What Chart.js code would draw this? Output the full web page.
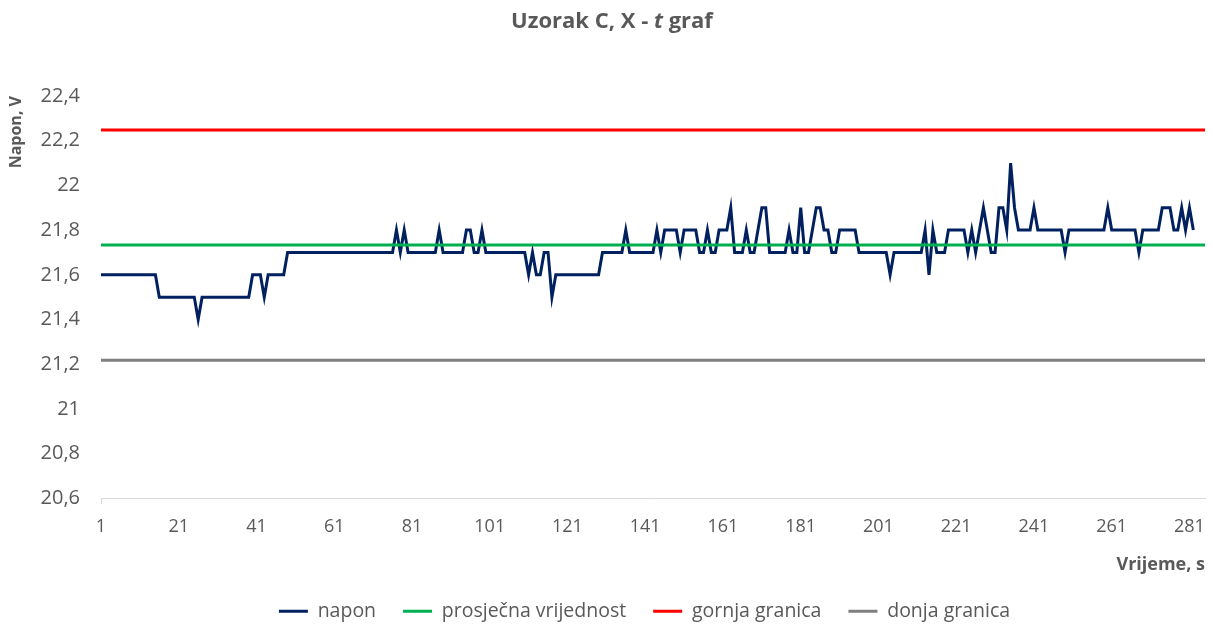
<!DOCTYPE html>
<html>
<head>
<meta charset="utf-8">
<script src="https://cdn.jsdelivr.net/npm/chart.js@4/dist/chart.umd.min.js"></script>
<style>
  html, body { margin: 0; padding: 0; background: #fff; }
  canvas { display: block; }
</style>
</head>
<body>
<canvas id="xtChart" width="1213" height="625"></canvas>
<script>
// napon (V) po sekundi, ocitano s grafa
const napon = [
  21.6, 21.6, 21.6, 21.6, 21.6, 21.6, 21.6, 21.6, 21.6, 21.6, 21.6, 21.6, 21.6, 21.6, 21.6, 21.5, 21.5, 21.5, 21.5, 21.5,
  21.5, 21.5, 21.5, 21.5, 21.5, 21.4, 21.5, 21.5, 21.5, 21.5, 21.5, 21.5, 21.5, 21.5, 21.5, 21.5, 21.5, 21.5, 21.5, 21.6,
  21.6, 21.6, 21.5, 21.6, 21.6, 21.6, 21.6, 21.6, 21.7, 21.7, 21.7, 21.7, 21.7, 21.7, 21.7, 21.7, 21.7, 21.7, 21.7, 21.7,
  21.7, 21.7, 21.7, 21.7, 21.7, 21.7, 21.7, 21.7, 21.7, 21.7, 21.7, 21.7, 21.7, 21.7, 21.7, 21.7, 21.8, 21.7, 21.8, 21.7,
  21.7, 21.7, 21.7, 21.7, 21.7, 21.7, 21.7, 21.8, 21.7, 21.7, 21.7, 21.7, 21.7, 21.7, 21.8, 21.8, 21.7, 21.7, 21.8, 21.7,
  21.7, 21.7, 21.7, 21.7, 21.7, 21.7, 21.7, 21.7, 21.7, 21.7, 21.6, 21.7, 21.6, 21.6, 21.7, 21.7, 21.5, 21.6, 21.6, 21.6,
  21.6, 21.6, 21.6, 21.6, 21.6, 21.6, 21.6, 21.6, 21.6, 21.7, 21.7, 21.7, 21.7, 21.7, 21.7, 21.8, 21.7, 21.7, 21.7, 21.7,
  21.7, 21.7, 21.7, 21.8, 21.7, 21.8, 21.8, 21.8, 21.8, 21.7, 21.8, 21.8, 21.8, 21.8, 21.7, 21.7, 21.8, 21.7, 21.7, 21.8,
  21.8, 21.8, 21.9, 21.7, 21.7, 21.7, 21.8, 21.7, 21.7, 21.8, 21.9, 21.9, 21.7, 21.7, 21.7, 21.7, 21.7, 21.8, 21.7, 21.7,
  21.9, 21.7, 21.7, 21.8, 21.9, 21.9, 21.8, 21.8, 21.7, 21.7, 21.8, 21.8, 21.8, 21.8, 21.8, 21.7, 21.7, 21.7, 21.7, 21.7,
  21.7, 21.7, 21.7, 21.6, 21.7, 21.7, 21.7, 21.7, 21.7, 21.7, 21.7, 21.7, 21.8, 21.6, 21.8, 21.7, 21.7, 21.7, 21.8, 21.8,
  21.8, 21.8, 21.8, 21.7, 21.8, 21.7, 21.8, 21.9, 21.8, 21.7, 21.7, 21.9, 21.9, 21.8, 22.1, 21.9, 21.8, 21.8, 21.8, 21.8,
  21.9, 21.8, 21.8, 21.8, 21.8, 21.8, 21.8, 21.8, 21.7, 21.8, 21.8, 21.8, 21.8, 21.8, 21.8, 21.8, 21.8, 21.8, 21.8, 21.9,
  21.8, 21.8, 21.8, 21.8, 21.8, 21.8, 21.8, 21.7, 21.8, 21.8, 21.8, 21.8, 21.8, 21.9, 21.9, 21.9, 21.8, 21.8, 21.9, 21.8,
  21.9, 21.8
];

// kontrolne granice
const prosjek = 21.733;
const gornjaGranica = 22.248;
const donjaGranica = 21.218;

// os x ima nekoliko kategorija vise od mjerenja
const brojKategorija = 285;
const vrijeme = Array.from({ length: brojKategorija }, (_, i) => String(i + 1));
const yTicks = [20.6, 20.8, 21, 21.2, 21.4, 21.6, 21.8, 22, 22.2, 22.4];

const textColor = '#595959';
const fontFamily = "'Open Sans', 'Liberation Sans', sans-serif";

// naslov s kurzivnim "t"
const titlePlugin = {
  id: 'xtTitle',
  afterLayout(chart) {
    // legenda u originalu stoji malo desno
    chart.legend.left += 42;
    chart.legend.right += 42;
  },
  afterDraw(chart) {
    const ctx = chart.ctx;
    const parts = [
      { t: 'Uzorak C, X - ', f: 'bold 22px ' + fontFamily },
      { t: 't', f: 'italic bold 22px ' + fontFamily },
      { t: ' graf', f: 'bold 22px ' + fontFamily }
    ];
    ctx.save();
    let total = 0;
    parts.forEach(p => { ctx.font = p.f; p.w = ctx.measureText(p.t).width; total += p.w; });
    let x = 612 - total / 2;
    ctx.fillStyle = textColor;
    ctx.textBaseline = 'middle';
    parts.forEach(p => { ctx.font = p.f; ctx.fillText(p.t, x, 22); x += p.w; });
    ctx.restore();
  }
};

const ctx = document.getElementById('xtChart').getContext('2d');
new Chart(ctx, {
  type: 'line',
  data: {
    labels: vrijeme,
    datasets: [
      { label: 'napon', data: napon, borderColor: '#002060', backgroundColor: '#002060', borderWidth: 3, order: 4 },
      { label: 'prosječna vrijednost', data: vrijeme.map(() => prosjek), borderColor: '#00B050', backgroundColor: '#00B050', borderWidth: 3, order: 3 },
      { label: 'gornja granica', data: vrijeme.map(() => gornjaGranica), borderColor: '#FF0000', backgroundColor: '#FF0000', borderWidth: 3, order: 2 },
      { label: 'donja granica', data: vrijeme.map(() => donjaGranica), borderColor: '#7F7F7F', backgroundColor: '#7F7F7F', borderWidth: 3, order: 1 }
    ]
  },
  options: {
    responsive: false,
    animation: false,
    elements: { point: { radius: 0 }, line: { tension: 0 } },
    layout: { padding: { top: 96, right: 8, left: 0, bottom: -6 } },
    plugins: {
      tooltip: { enabled: false },
      legend: {
        position: 'bottom',
        labels: {
          color: textColor,
          font: { family: fontFamily, size: 19.5 },
          usePointStyle: true,
          pointStyle: 'line',
          pointStyleWidth: 29,
          padding: 27,
          sort: (a, b) => a.datasetIndex - b.datasetIndex
        }
      }
    },
    scales: {
      x: {
        offset: false,
        afterFit: s => { s.paddingRight = 0; },
        grid: {
          display: true,
          drawOnChartArea: false,
          drawTicks: true,
          tickLength: 6,
          color: c => (c.index === 0 ? '#D9D9D9' : 'rgba(0,0,0,0)')
        },
        border: { display: true, color: '#D9D9D9', width: 1 },
        ticks: {
          autoSkip: false,
          maxRotation: 0,
          padding: 12,
          color: textColor,
          font: { family: fontFamily, size: 18 },
          callback: (v, i) => (i % 20 === 0 ? vrijeme[i] : null)
        },
        title: {
          display: true,
          text: 'Vrijeme, s',
          align: 'end',
          color: textColor,
          font: { family: fontFamily, size: 18, weight: 'bold' },
          padding: { top: 4, bottom: -1 }
        }
      },
      y: {
        min: 20.6,
        max: 22.4,
        afterBuildTicks: s => { s.ticks = yTicks.map(v => ({ value: v })); },
        afterFit: s => { s.width = 101; },
        grid: { display: false, drawTicks: false },
        border: { display: false },
        ticks: {
          padding: 21,
          color: textColor,
          font: { family: fontFamily, size: 20 },
          callback: v => String(Number(v.toFixed(1))).replace('.', ',')
        },
        title: {
          display: true,
          text: 'Napon, V',
          align: 'end',
          color: textColor,
          font: { family: fontFamily, size: 16, weight: 'bold' },
          padding: { top: 7, bottom: 0 }
        }
      }
    }
  },
  plugins: [titlePlugin]
});
</script>
</body>
</html>
